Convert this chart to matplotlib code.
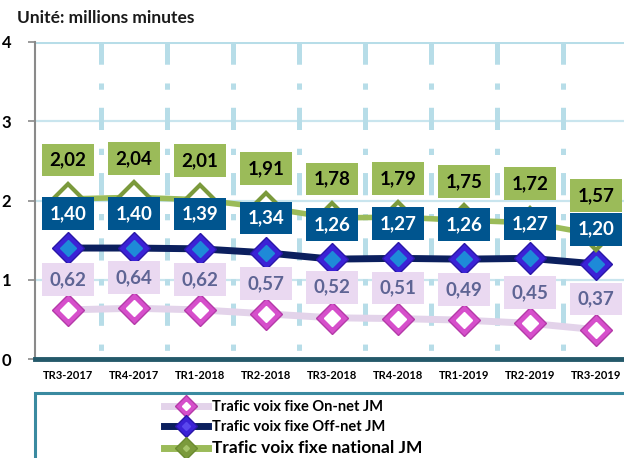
import matplotlib

matplotlib.use("Agg")
import matplotlib.pyplot as plt  # noqa: E402
from matplotlib.lines import Line2D  # noqa: E402
from matplotlib.legend_handler import HandlerTuple  # noqa: E402
from matplotlib.patches import Rectangle  # noqa: E402

quarters = ["TR3-2017", "TR4-2017", "TR1-2018", "TR2-2018", "TR3-2018",
            "TR4-2018", "TR1-2019", "TR2-2019", "TR3-2019"]
on_net = [0.62, 0.64, 0.62, 0.57, 0.52, 0.51, 0.49, 0.45, 0.37]
off_net = [1.40, 1.40, 1.39, 1.34, 1.26, 1.27, 1.26, 1.27, 1.20]
national = [2.02, 2.04, 2.01, 1.91, 1.78, 1.79, 1.75, 1.72, 1.57]
series_names = ["Trafic voix fixe On-net JM", "Trafic voix fixe Off-net JM",
                "Trafic voix fixe national JM"]

FONT = ["Lato", "DejaVu Sans"]
plt.rcParams["font.family"] = FONT
plt.rcParams["lines.scale_dashes"] = False

fig = plt.figure(figsize=(6.24, 4.58), dpi=100)
ax = fig.add_axes([35 / 624, 1 - 359 / 458, 594 / 624, 317 / 458])
x = list(range(len(quarters)))
ax.set_xlim(-0.5, len(quarters) - 0.5)
ax.set_ylim(0, 4)

# grid
for yv in [1, 2, 3]:
    ax.axhline(yv, color="#c9e5ee", lw=1.6, zorder=0)
ax.axhline(4, color="#b7dde8", lw=2.2, zorder=0)
for k in range(len(quarters) - 1):
    ax.plot([k + 0.5, k + 0.5], [4, 0], color="#b7dde8", lw=3.6,
            linestyle=(0, (16, 13.5, 4.5, 13)), solid_capstyle="butt",
            zorder=0)

# spines
for s in ["top", "right"]:
    ax.spines[s].set_visible(False)
ax.spines["left"].set_color("#8a8a8a")
ax.spines["left"].set_linewidth(1.5)
ax.spines["bottom"].set_color("#24596a")
ax.spines["bottom"].set_linewidth(3.5)
ax.tick_params(axis="y", length=5, width=1.2, color="#8a8a8a", pad=12,
               labelsize=12)
ax.tick_params(axis="x", length=0, pad=8, labelsize=8)
ax.set_yticks([0, 1, 2, 3, 4])
ax.set_xticks(x)
ax.set_xticklabels(quarters, fontweight="bold")
for t in ax.get_yticklabels():
    t.set_fontweight("bold")

# lines
ax.plot(x, on_net, color="#e3d3ea", lw=5, zorder=2)
ax.plot(x, off_net, color="#0b1f5e", lw=5, zorder=2)
ax.plot(x, national, color="#9bbb59", lw=4, zorder=2)

# markers
ax.plot(x, on_net, "D", ms=16, color="#d64fcb", mec="#b43aa8", mew=1,
        zorder=3)
ax.plot(x, on_net, "D", ms=8.5, color="white", mec="white", zorder=4)
ax.plot(x, off_net, "D", ms=16, color="#3b22d6", mec="#2a16a8", mew=1,
        zorder=3)
ax.plot(x, off_net, "D", ms=8, color="#1e8ad8", mec="#1e8ad8", zorder=4)
ax.plot(x, national, "D", ms=15, color="white", mec="#7b9a3c", mew=3,
        zorder=3)

# value boxes
styles = [
    (on_net, 22, "#ead9f1", "#5e6494"),
    (off_net, 25, "#00558f", "white"),
    (national, 28, "#9bbb59", "black"),
]
for vals, off, face, tc in styles:
    for xi, v in zip(x, vals):
        ax.annotate(f"{v:.2f}".replace(".", ","), (xi, v),
                    xytext=(0, off), textcoords="offset points",
                    ha="center", va="center", fontsize=13.5,
                    fontweight="bold", color=tc, zorder=6,
                    bbox=dict(boxstyle="square,pad=0.42", fc=face,
                              ec="none"))

fig.text(17 / 624, 1 - 18 / 458, "Unité: millions minutes",
         fontsize=12.5, fontweight="bold", va="center", color="#1a1a1a")

# legend
fig.patches.append(Rectangle((35 / 624, -0.2), 1.0, 0.2 + 1 - 393 / 458,
                             transform=fig.transFigure, fill=False,
                             ec="#3a8aa0", lw=2.2))
h1 = (Line2D([], [], color="#e3d3ea", lw=5, marker="D", ms=11,
             mfc="#d64fcb", mec="#b43aa8"),
      Line2D([], [], ls="none", marker="D", ms=4, color="white"))
h2 = (Line2D([], [], color="#0b1f5e", lw=5, marker="D", ms=11,
             mfc="#3b22d6", mec="#2a16a8"),
      Line2D([], [], ls="none", marker="D", ms=4, color="#5a48ee"))
h3 = (Line2D([], [], color="#9bbb59", lw=5, marker="D", ms=11,
             mfc="#7b9a3c", mec="#6a8a30"),
      Line2D([], [], ls="none", marker="D", ms=3, color="#a6c46a"))
leg = fig.legend([h1, h2, h3], series_names,
                 handler_map={tuple: HandlerTuple(ndivide=1)},
                 loc="upper left", bbox_to_anchor=(157 / 624, 1 - 393 / 458),
                 frameon=False, handlelength=3.0, handletextpad=0.25,
                 labelspacing=0.4, borderpad=0.0,
                 prop={"family": FONT, "weight": "bold", "size": 10.5})
leg.get_texts()[2].set_fontsize(12.5)

fig.savefig("out.png", dpi=100)
plt.close(fig)
